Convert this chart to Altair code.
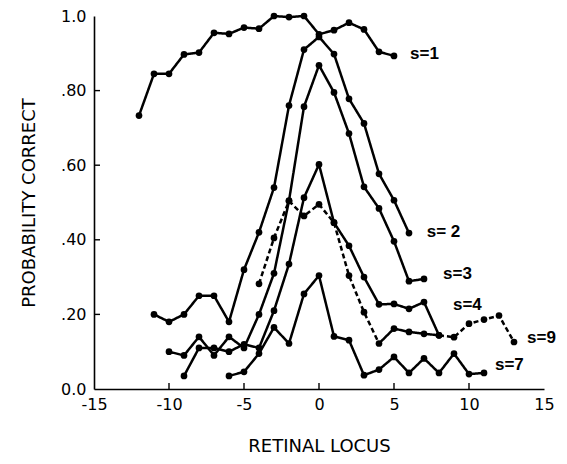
import altair as alt
import pandas as pd

# ---------------- data ----------------
x_s1 = list(range(-12, 6))
y_s1 = [0.733, 0.845, 0.845, 0.897, 0.902, 0.955, 0.952, 0.969, 0.966, 1.0,
        0.997, 1.0, 0.951, 0.962, 0.982, 0.964, 0.904, 0.893]

x_s2 = list(range(-11, 7))
y_s2 = [0.20, 0.18, 0.20, 0.25, 0.25, 0.18, 0.32, 0.42, 0.54, 0.76,
        0.91, 0.944, 0.898, 0.778, 0.712, 0.577, 0.506, 0.418]

x_s3 = list(range(-10, 8))
y_s3 = [0.10, 0.09, 0.14, 0.09, 0.14, 0.11, 0.20, 0.31, 0.505, 0.757,
        0.868, 0.795, 0.685, 0.542, 0.484, 0.396, 0.289, 0.295]

x_s4 = list(range(-9, 9))
y_s4 = [0.035, 0.11, 0.11, 0.10, 0.12, 0.11, 0.21, 0.335, 0.513, 0.602,
        0.446, 0.384, 0.30, 0.227, 0.228, 0.215, 0.233, 0.144]

x_s9 = list(range(-4, 14))
y_s9 = [0.282, 0.405, 0.504, 0.464, 0.495, 0.446, 0.304, 0.206, 0.122, 0.162,
        0.153, 0.148, 0.144, 0.139, 0.175, 0.186, 0.197, 0.126]
s9_solid_from, s9_solid_to = 4, 8   # part of s=9 drawn solid, rest dashed

x_s7 = list(range(-6, 12))
y_s7 = [0.035, 0.046, 0.095, 0.165, 0.122, 0.255, 0.304, 0.141, 0.131, 0.037,
        0.052, 0.086, 0.043, 0.082, 0.043, 0.095, 0.040, 0.043]

label_text = ["s=1", "s= 2", "s=3", "s=4", "s=9", "s=7"]
label_x = [6.07, 7.18, 8.27, 8.93, 13.87, 11.73]
label_y = [0.899, 0.421, 0.309, 0.224, 0.137, 0.064]

x_ticks = [-15, -10, -5, 0, 5, 10, 15]
x_tick_labels = ["-15", "-10", "-5", "0", "5", "10", "15"]
y_ticks = [0.0, 0.2, 0.4, 0.6, 0.8, 1.0]
y_tick_labels = ["0.0", ".20", ".40", ".60", ".80", "1.0"]
x_inner_ticks = [-10, -5, 0, 5, 10]
y_inner_ticks = [0.2, 0.4, 0.6, 0.8]

# ---------------- tables ----------------
series = [("s1", x_s1, y_s1), ("s2", x_s2, y_s2), ("s3", x_s3, y_s3),
          ("s4", x_s4, y_s4), ("s9", x_s9, y_s9), ("s7", x_s7, y_s7)]

pt_rows, ln_rows = [], []
for name, xs, ys in series:
    for x, y in zip(xs, ys):
        pt_rows.append({"series": name, "x": x, "y": y})
        if name == "s9":
            if x <= s9_solid_from:
                ln_rows.append({"part": name + "a", "style": "dashed", "x": x, "y": y})
            if s9_solid_from <= x <= s9_solid_to:
                ln_rows.append({"part": name + "b", "style": "solid", "x": x, "y": y})
            if x >= s9_solid_to:
                ln_rows.append({"part": name + "c", "style": "dashed", "x": x, "y": y})
        else:
            ln_rows.append({"part": name, "style": "solid", "x": x, "y": y})

pts = pd.DataFrame(pt_rows)
lns = pd.DataFrame(ln_rows)
labs = pd.DataFrame({"x": label_x, "y": label_y, "t": label_text})
xt = pd.DataFrame({"x": x_inner_ticks})
yt = pd.DataFrame({"y": y_inner_ticks})

W, H = 450, 373
xs_ = alt.Scale(domain=[-15, 15], nice=False, zero=False)
ys_ = alt.Scale(domain=[0, 1], nice=False)

xlab_expr = "{}[indexof({}, datum.value)]".format(
    str(x_tick_labels), str(x_ticks))
ylab_expr = "{}[round(datum.value*5)]".format(str(y_tick_labels))

xaxis = alt.Axis(values=x_ticks, labelExpr=xlab_expr, title="RETINAL LOCUS",
                 ticks=False, grid=False, labelFlush=False, labelOverlap=False,
                 labelFont="DejaVu Sans", labelFontSize=16, labelColor="black",
                 labelPadding=7, titleFont="DejaVu Sans", titleFontSize=18,
                 titleFontWeight="normal", titleColor="black", titlePadding=25,
                 domainColor="black", domainWidth=1.6)
yaxis = alt.Axis(values=y_ticks, labelExpr=ylab_expr, title="PROBABILITY CORRECT",
                 ticks=False, grid=False, labelFlush=False, labelOverlap=False,
                 labelFont="DejaVu Sans", labelFontSize=16, labelColor="black",
                 labelPadding=8, titleFont="DejaVu Sans", titleFontSize=18,
                 titleFontWeight="normal", titleColor="black", titlePadding=22,
                 domainColor="black", domainWidth=1.6)

X = alt.X("x:Q", scale=xs_, axis=xaxis)
Y = alt.Y("y:Q", scale=ys_, axis=yaxis)

lines = alt.Chart(lns).mark_line(color="black", strokeWidth=2.5).encode(
    x=X, y=Y, detail="part:N", order="x:Q",
    strokeDash=alt.StrokeDash("style:N", legend=None,
                              scale=alt.Scale(domain=["solid", "dashed"],
                                              range=[[1, 0], [5, 3]])))
dots = alt.Chart(pts).mark_circle(color="black", size=45, opacity=1).encode(x=X, y=Y)
texts = alt.Chart(labs).mark_text(align="left", baseline="middle", font="Liberation Sans",
                                  fontWeight="bold", fontSize=17, color="black").encode(
    x=X, y=Y, text="t:N")
xticks = alt.Chart(xt).mark_rule(color="black", strokeWidth=1.4).encode(
    x=X, y=alt.value(H), y2=alt.value(H - 6))
yticks = alt.Chart(yt).mark_rule(color="black", strokeWidth=1.4).encode(
    y=Y, x=alt.value(0), x2=alt.value(6))

chart = alt.layer(lines, dots, xticks, yticks, texts).properties(
    width=W, height=H,
    autosize=alt.AutoSizeParams(type="none"),
    padding={"left": 86, "top": 8, "right": 15, "bottom": 67},
    background="white",
).configure_view(stroke=None)

chart.save("out.html", embed_options={"renderer": "svg", "actions": False})
